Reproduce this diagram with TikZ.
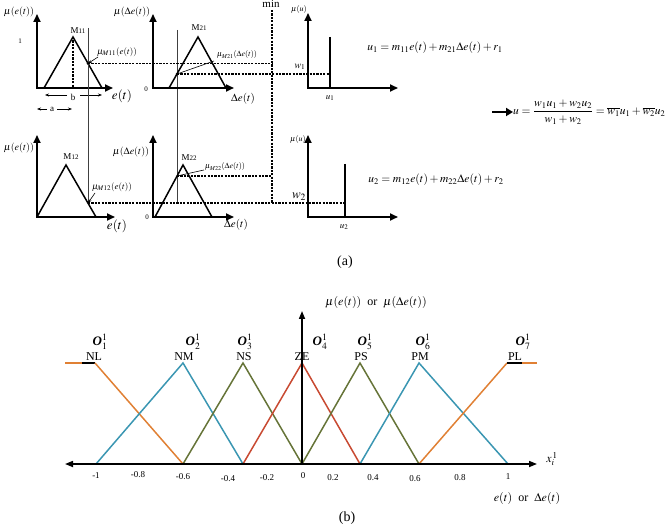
\documentclass[tikz,border=0pt]{standalone}
\usepackage{amsmath}
\usepackage{mathptmx}
\usepackage{fontspec}
\setmainfont{Liberation Serif}
\usetikzlibrary{arrows.meta}
\definecolor{orng}{RGB}{224,128,52}
\definecolor{teal}{RGB}{58,150,178}
\definecolor{olive}{RGB}{102,116,56}
\definecolor{redc}{RGB}{200,74,50}
\newcommand{\fs}[1]{\fontsize{#1}{#1}\selectfont}
\begin{document}
\begin{tikzpicture}[x=1pt,y=-1pt,
  axes/.style={line width=1.8pt,line join=miter,{Triangle[length=8pt,width=7pt]}-{Triangle[length=8pt,width=7pt]}},
  tri/.style={line width=1.5pt,line join=miter},
  dsh/.style={line width=1.1pt,dash pattern=on 2.2pt off 1.2pt},
  cut/.style={line width=0.7pt,black!75},
  lbl/.style={inner sep=0pt,font=\fs{10}},
  sm/.style={inner sep=0pt,font=\fs{7}},
  ptr/.style={line width=0.6pt,-{Stealth[length=4pt,width=3pt]}},
  mf/.style={line width=1.5pt},
  tk/.style={inner sep=0pt,font=\fs{9}},
  term/.style={inner sep=0pt,font=\fs{11}},
  olab/.style={inner sep=0pt,font=\fs{12}},
]
\useasboundingbox (0,0) rectangle (669,526);
\clip (0,0) rectangle (669,526);

% ---------- panel 1 : M11
\coordinate (p1y) at (37,14); \coordinate (p1x) at (113,88);
\draw[axes] (p1y) |- (p1x);
\coordinate (m11l) at (44,88); \coordinate (m11t) at (73,37); \coordinate (m11r) at (102,88);
\coordinate (m11b) at (73,88);
\draw[tri] (m11l) -- (m11t) -- (m11r);
\draw[dsh] (m11t) -- (m11b);
\node[lbl] (l1) at (19,12) {$\mu(e(t))$};
\node[sm] (one) at (20,41) {1};
\node[sm,font=\fs{9}] (M11) at (78,31) {M\fs{7}11};
\node[lbl,font=\fs{13}] (e1) at (122,96) {$e(t)$};
\node[sm,font=\fs{9}] (bb) at (73,97) {b};
\coordinate (bl) at (45,95); \coordinate (bla) at (67,95);
\coordinate (br) at (102,95); \coordinate (bra) at (80,95);
\draw[ptr] (bla) -- (bl); \draw[ptr] (bra) -- (br);
\node[sm,font=\fs{9}] (aa) at (52,109) {a};
\coordinate (al) at (37,109); \coordinate (ala) at (47,109);
\coordinate (ar) at (72,109); \coordinate (ara) at (57,109);
\draw[ptr] (ala) -- (al); \draw[ptr] (ara) -- (ar);

% cut lines
\coordinate (c1t) at (88,28); \coordinate (c1b) at (88,203);
\draw[cut] (c1t) -- (c1b);
\coordinate (c2t) at (177,30); \coordinate (c2b) at (177,203);
\draw[cut] (c2t) -- (c2b);

% intersections
\coordinate (i11) at (88,63.5);
\coordinate (i21) at (177,74);
\coordinate (i12) at (88,203);
\coordinate (i22) at (177,176);
\fill (i11) circle (1.3pt); \fill (i21) circle (1.3pt);

\node[lbl,font=\fs{9}] (lm11) at (117,52) {$\mu_{\fs{6}M11}(e(t))$};
\draw[ptr] (98,57) -- (i11);

% ---------- panel 2 : M21
\coordinate (p2y) at (153,14); \coordinate (p2x) at (234,88);
\draw[axes] (p2y) |- (p2x);
\coordinate (m21l) at (169,88); \coordinate (m21t) at (198,37); \coordinate (m21r) at (226,88);
\draw[tri] (m21l) -- (m21t) -- (m21r);
\node[lbl] (l2) at (132,12) {$\mu(\Delta e(t))$};
\node[sm] (z1) at (146,89) {0};
\node[sm,font=\fs{9}] (M21) at (199,28) {M\fs{7}21};
\node[lbl,font=\fs{11}] (de1) at (243,99) {$\Delta e(t)$};
\node[lbl,font=\fs{8}] (lm21) at (237,55) {$\mu_{\fs{5}M21}(\Delta e(t))$};
\draw[line width=0.6pt] (214,61) -- (i21);

% min line
\node[lbl,font=\fs{11}] (minl) at (271,4) {min};
\coordinate (mnt) at (272,10); \coordinate (mnb) at (272,203);
\draw[dsh] (mnt) -- (mnb);
\coordinate (mn1) at (272,63.5);
\coordinate (mn2) at (272,176);
\draw[dsh] (i11) -- (mn1);
\draw[dsh] (i22) -- (mn2);

% ---------- panel 3 : u1
\coordinate (p3y) at (308,13); \coordinate (p3x) at (398,88);
\draw[axes] (p3y) |- (p3x);
\coordinate (u1t) at (330,37); \coordinate (u1b) at (330,88);
\draw[mf] (u1t) -- (u1b);
\draw[dsh] (i21) -- (330,74);
\node[lbl,font=\fs{8}] (mu3) at (299,10) {$\mu(u)$};
\node[lbl,font=\fs{10}] (w1) at (300,67) {$w_1$};
\node[lbl,font=\fs{9}] (u1l) at (330,98) {$u_{\fs{6}1}$};

\node[term,font=\fs{11.5}] (eq1) at (435,48) {$u_1=m_{11}e(t)+m_{21}\Delta e(t)+r_1$};

% ---------- panel 4 : M12
\coordinate (p4y) at (37,135); \coordinate (p4x) at (115,217);
\draw[axes] (p4y) |- (p4x);
\coordinate (m12l) at (37,217); \coordinate (m12t) at (66,165); \coordinate (m12r) at (96,217);
\draw[tri] (m12l) -- (m12t) -- (m12r);
\node[lbl] (l4) at (19,148) {$\mu(e(t))$};
\node[sm,font=\fs{9}] (M12) at (71,157) {M\fs{7}12};
\node[lbl,font=\fs{13}] (e2) at (117,226) {$e(t)$};
\node[lbl,font=\fs{9}] (lm12) at (112,187) {$\mu_{\fs{6}M12}(e(t))$};
\draw[ptr] (95,193) -- (i12);

% ---------- panel 5 : M22
\coordinate (p5y) at (153,135); \coordinate (p5x) at (234,217);
\draw[axes] (p5y) |- (p5x);
\coordinate (m22l) at (155,217); \coordinate (m22t) at (183,165); \coordinate (m22r) at (212,217);
\draw[tri] (m22l) -- (m22t) -- (m22r);
\node[lbl] (l5) at (131,152) {$\mu(\Delta e(t))$};
\node[sm] (z2) at (147,217) {0};
\node[sm,font=\fs{9}] (M22) at (189,158) {M\fs{7}22};
\node[lbl,font=\fs{11}] (de2) at (236,225) {$\Delta e(t)$};
\node[lbl,font=\fs{8}] (lm22) at (225,167) {$\mu_{\fs{5}M22}(\Delta e(t))$};
\draw[line width=0.6pt] (204,170) -- (i22);

% ---------- panel 6 : u2
\coordinate (p6y) at (308,135); \coordinate (p6x) at (398,217);
\draw[axes] (p6y) |- (p6x);
\coordinate (u2t) at (345,164); \coordinate (u2b) at (345,217);
\draw[mf] (u2t) -- (u2b);
\coordinate (u2d) at (345,203);
\draw[dsh] (i12) -- (u2d);
\node[lbl,font=\fs{8}] (mu6) at (298,140) {$\mu(u)$};
\node[lbl,font=\fs{13}] (w2) at (299,197) {$\boldsymbol{w}_{\fs{5}2}$};
\node[lbl,font=\fs{9}] (u2l) at (344,227) {$u_{\fs{6}2}$};

\node[term,font=\fs{11.5}] (eq2) at (436,180) {$u_2=m_{12}e(t)+m_{22}\Delta e(t)+r_2$};

% ---------- overall formula
\node[term,anchor=west,font=\fs{11.5}] (fml) at (513,112) {$u=\dfrac{w_1u_1+w_2u_2}{w_1+w_2}=\overline{w_1}u_1+\overline{w_2}u_2$};
\coordinate (arS) at (492,112);
\draw[line width=2.6pt,-{Triangle[length=7pt,width=8pt]}] (arS) -- (fml.west);

\node[inner sep=0pt,font=\fs{14}] (capa) at (345,262) {(a)};

% ---------- part (b)
\coordinate (bl0) at (65,363); \coordinate (bl1) at (82,363); \coordinate (bl2) at (95,363);
\coordinate (n1) at (96,464); \coordinate (n06) at (183,464); \coordinate (n033) at (243,464);
\coordinate (z0) at (302,464); \coordinate (p033) at (360,464); \coordinate (p06) at (419,464);
\coordinate (p1) at (508,464);
\coordinate (tNM) at (183,363); \coordinate (tNS) at (243,363); \coordinate (tZE) at (302,363);
\coordinate (tPS) at (360,363); \coordinate (tPM) at (419,363); \coordinate (tPL) at (507,363);
\coordinate (pl1) at (522,363); \coordinate (pl2) at (537,363);

\draw[orng,mf] (bl0) -- (bl1);
\draw[black,mf] (bl1) -- (bl2);
\draw[orng,mf] (bl2) -- (n06);
\draw[teal,mf] (n1) -- (tNM) -- (n033);
\draw[olive,mf] (n06) -- (tNS) -- (z0);
\draw[redc,mf] (n033) -- (tZE) -- (p033);
\draw[olive,mf] (z0) -- (tPS) -- (p06);
\draw[teal,mf] (p033) -- (tPM) -- (p1);
\draw[orng,mf] (p06) -- (tPL);
\draw[black,mf] (tPL) -- (pl1);
\draw[orng,mf] (pl1) -- (pl2);

\coordinate (axL) at (65,464); \coordinate (axR) at (537,464); \coordinate (axT) at (302,311);
\draw[line width=1.6pt,{Triangle[length=8pt,width=6pt]}-{Triangle[length=8pt,width=6pt]}] (axL) -- (axR);
\draw[line width=1.6pt,-{Triangle[length=8pt,width=6pt]}] (z0) -- (axT);

\node[tk] (t1) at (96,476) {-1};
\node[tk] (t2) at (138,475) {-0.8};
\node[tk] (t3) at (183,477) {-0.6};
\node[tk] (t4) at (228,479) {-0.4};
\node[tk] (t5) at (267,478) {-0.2};
\node[tk] (t6) at (303,476) {0};
\node[tk] (t7) at (333,478) {0.2};
\node[tk] (t8) at (373,478) {0.4};
\node[tk] (t9) at (415,479) {0.6};
\node[tk] (t10) at (460,478) {0.8};
\node[tk] (t11) at (508,477) {1};

\node[olab] (NL) at (94,357) {NL};
\node[olab] (NM) at (184,357) {NM};
\node[olab] (NS) at (244,357) {NS};
\node[olab] (ZE) at (302,357) {ZE};
\node[olab] (PS) at (361,357) {PS};
\node[olab] (PM) at (420,357) {PM};
\node[olab] (PL) at (515,357) {PL};

\node[olab,font=\fs{13}] (O1) at (100,342) {$\textbf{\textit{O}}_1^1$};
\node[olab,font=\fs{13}] (O2) at (193,342) {$\textbf{\textit{O}}_2^1$};
\node[olab,font=\fs{13}] (O3) at (245,342) {$\textbf{\textit{O}}_3^1$};
\node[olab,font=\fs{13}] (O4) at (320,342) {$\textbf{\textit{O}}_4^1$};
\node[olab,font=\fs{13}] (O5) at (365,342) {$\textbf{\textit{O}}_5^1$};
\node[olab,font=\fs{13}] (O6) at (423,342) {$\textbf{\textit{O}}_6^1$};
\node[olab,font=\fs{13}] (O7) at (523,342) {$\textbf{\textit{O}}_7^1$};

\node[inner sep=0pt,font=\fs{12}] (ttl) at (376,303) {$\mu(e(t))$~~or~~$\mu(\Delta e(t))$};
\node[inner sep=0pt,font=\fs{12}] (xl) at (552,459) {$x_i^{\,1}$};
\node[inner sep=0pt,font=\fs{12}] (xl2) at (527,498) {$e(t)$~~or~~$\Delta e(t)$};
\node[inner sep=0pt,font=\fs{14}] (capb) at (347,518) {(b)};
\end{tikzpicture}
\end{document}
